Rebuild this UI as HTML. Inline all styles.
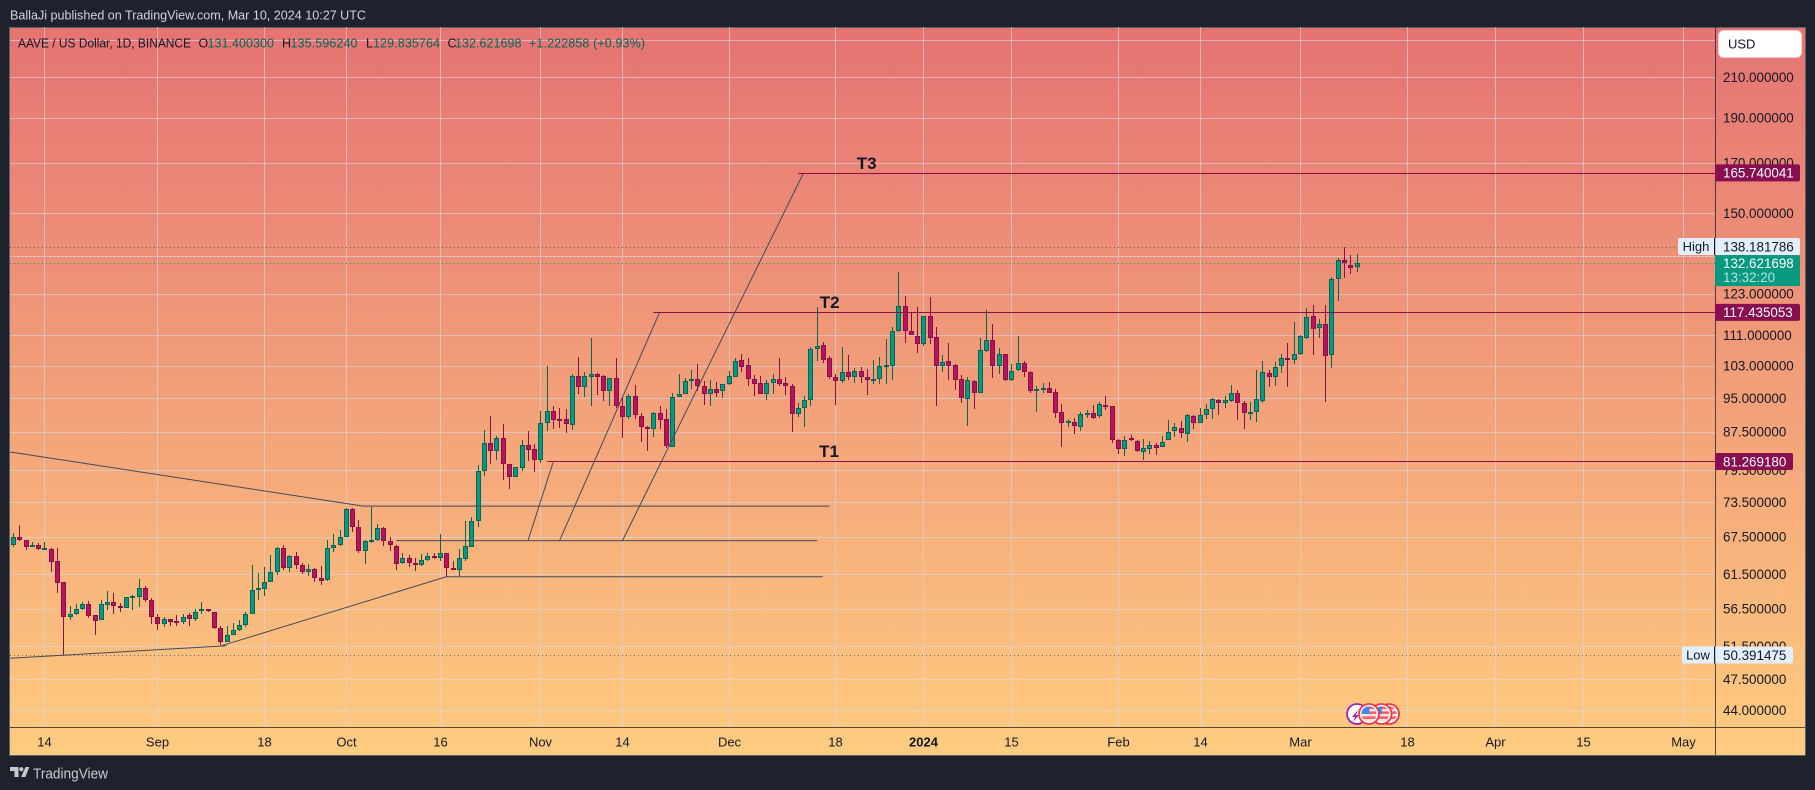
<!DOCTYPE html>
<html lang="en">
<head>
<meta charset="utf-8">
<title>AAVE / US Dollar chart</title>
<style>
html,body{margin:0;padding:0;background:#1e222d;width:1815px;height:790px;overflow:hidden}
svg{display:block;position:absolute;left:0;top:0}
text{font-family:"Liberation Sans",sans-serif}
</style>
</head>
<body>
<svg id="chart" width="1815" height="790" viewBox="0 0 1815 790" xmlns="http://www.w3.org/2000/svg">
  <defs id="defs">
    <linearGradient id="bg" x1="0" y1="0" x2="0" y2="1">
      <stop offset="0" stop-color="#e57373"/>
      <stop offset="1" stop-color="#ffcc80"/>
    </linearGradient>
    <clipPath id="plotClip"><rect x="10" y="27" width="1705" height="700"/></clipPath>
  </defs>
  <text x="10" y="19.5" font-size="13" fill="#d1d4dc" textLength="356" lengthAdjust="spacingAndGlyphs">BallaJi published on TradingView.com, Mar 10, 2024 10:27 UTC</text>
  <rect x="9.5" y="27.5" width="1796" height="728" fill="url(#bg)" stroke="#5d606b"/>
  <g id="grid" shape-rendering="crispEdges"></g>
  <g id="priceLines" clip-path="url(#plotClip)"></g>
  <g id="candles" clip-path="url(#plotClip)" shape-rendering="crispEdges"></g>
  <g id="drawings" clip-path="url(#plotClip)"></g>
  <g id="events"></g>
  <g font-size="12.5">
    <text x="18" y="47.5" fill="#131722" textLength="173" lengthAdjust="spacingAndGlyphs">AAVE / US Dollar, 1D, BINANCE</text>
    <text x="198.5" y="47.5" fill="#131722">O</text>
    <text x="207.5" y="47.5" fill="#056656" textLength="66.5">131.400300</text>
    <text x="282" y="47.5" fill="#131722">H</text>
    <text x="290.5" y="47.5" fill="#056656" textLength="67">135.596240</text>
    <text x="366" y="47.5" fill="#131722">L</text>
    <text x="373" y="47.5" fill="#056656" textLength="67">129.835764</text>
    <text x="447.5" y="47.5" fill="#131722">C</text>
    <text x="455" y="47.5" fill="#056656" textLength="66.5">132.621698</text>
    <text x="529" y="47.5" fill="#056656" textLength="116">+1.222858 (+0.93%)</text>
  </g>
  <g id="axes"></g>
  <g>
    <rect x="1718.5" y="30.5" width="83" height="27" rx="5" fill="#fff" stroke="#f0d0d0"/>
    <text x="1728" y="48.5" font-size="13" fill="#131722">USD</text>
  </g>
  <g>
    <path d="M10 767h8.5v10h-4v-6h-4.5z" fill="#c8cad2"/>
    <circle cx="21.3" cy="769.2" r="2.1" fill="#c8cad2"/>
    <path d="M25.5 767h3.8l-4 10h-4.2z" fill="#c8cad2"/>
    <text x="33" y="778.5" font-size="15" fill="#c8cad2" textLength="75" lengthAdjust="spacingAndGlyphs">TradingView</text>
  </g>
</svg>
<script>
const firstDate = '2023-08-09';
const opens = [
66.2,67.4,67.0,65.8,66.2,65.5,65.4,63.5,60.3,55.4,
55.8,56.5,57.1,55.6,55.0,57.0,57.5,56.9,56.6,58.2,
58.2,59.5,57.7,55.4,54.4,55.1,54.8,54.7,55.6,55.1,
56.2,56.5,56.1,53.9,52.1,53.0,53.6,54.3,55.8,59.1,
59.3,60.4,61.8,65.6,62.4,64.4,62.9,61.8,62.3,61.0,
60.6,65.7,66.1,67.5,72.2,69.2,65.1,66.6,66.9,68.9,
66.7,66.0,63.2,64.1,63.2,62.9,63.7,64.3,64.0,64.8,
62.5,62.1,63.9,65.8,70.1,79.3,85.0,83.5,86.1,80.7,
78.3,79.9,84.6,83.8,81.5,89.3,92.0,90.2,90.2,89.0,
100.3,97.6,100.2,100.8,100.3,96.8,99.8,93.2,90.8,95.5,
90.9,88.6,88.1,91.5,90.2,84.3,95.4,95.9,99.2,99.6,
97.9,96.1,97.2,96.6,98.3,100.2,104.3,103.1,99.6,98.6,
96.1,98.7,99.6,98.6,97.9,91.4,92.7,94.7,107.2,108.4,
104.8,100.1,99.2,101.3,100.2,101.6,100.1,99.5,99.7,103.0,
103.0,112.1,119.2,112.3,110.9,108.7,116.3,110.5,102.8,104.1,
103.1,99.6,94.8,99.1,96.3,106.8,109.6,103.0,106.1,99.3,
101.8,103.6,101.3,97.1,97.2,97.4,96.4,91.8,89.4,89.7,
88.5,91.3,91.5,91.0,93.5,93.2,85.8,83.9,86.1,85.4,
83.1,83.9,84.6,84.3,85.6,87.6,88.2,87.0,90.9,89.4,
91.2,92.4,94.5,94.0,94.4,96.2,93.8,91.7,91.9,94.4,
101.1,100.2,103.0,104.9,104.5,106.0,110.3,116.4,112.9,114.2,
105.8,127.6,133.8,131.9,131.4];
const closes = [
67.4,66.9,65.8,66.1,65.5,65.6,63.4,60.2,55.4,55.8,
56.5,57.1,55.5,54.8,57.1,57.4,56.9,56.6,58.2,58.3,
59.5,57.7,55.4,54.4,55.1,54.7,54.7,55.4,55.1,56.1,
56.5,56.2,53.9,52.1,53.0,53.6,54.3,55.8,59.1,59.4,
60.4,61.8,65.6,62.4,64.3,63.0,61.8,62.3,61.0,60.5,
65.7,66.1,67.5,72.2,69.2,65.1,66.7,66.9,68.9,66.7,
66.1,63.1,64.0,63.2,63.0,63.7,64.3,64.0,64.8,62.5,
62.1,64.0,65.9,70.1,79.3,85.0,83.5,86.1,80.7,78.3,
80.1,84.6,83.7,81.5,89.3,92.0,90.1,90.1,89.2,100.3,
97.6,100.3,100.8,100.2,96.8,99.8,93.2,90.6,95.5,91.1,
88.5,88.1,91.5,90.1,84.5,95.2,96.0,99.1,99.6,97.8,
96.1,97.2,96.3,98.3,100.3,104.1,102.7,99.7,98.5,96.1,
98.6,99.6,98.5,97.8,91.4,92.7,94.7,107.2,108.1,104.5,
100.0,99.2,101.3,100.0,101.6,100.2,99.5,99.6,102.8,103.2,
112.1,119.2,112.2,111.1,108.7,116.3,110.2,102.8,103.8,103.0,
99.3,95.0,99.3,96.3,106.9,109.6,102.8,105.9,99.3,101.6,
103.6,101.3,96.6,97.2,97.5,96.3,91.5,89.4,89.9,88.7,
91.3,91.5,90.5,93.6,93.1,85.6,83.9,85.8,85.6,83.3,
84.0,84.6,84.1,85.2,87.5,88.4,87.2,91.1,89.4,91.1,
92.5,94.8,94.0,94.5,96.2,93.8,91.7,91.8,94.8,101.3,
100.2,102.6,104.8,104.7,105.9,110.7,116.1,112.7,114.2,105.5,
127.4,133.8,132.7,131.1,132.62];
const highs = [
68.1,69.4,67.0,66.6,66.4,66.6,65.7,65.6,60.4,56.9,
57.1,57.4,57.6,55.6,57.7,59.0,58.7,57.3,58.2,58.4,
60.8,59.7,58.0,55.8,55.3,55.1,55.6,55.7,55.9,56.4,
57.4,56.5,56.1,54.1,54.2,54.6,55.0,56.1,62.9,61.7,
62.6,64.5,65.8,66.1,64.5,65.0,63.2,63.1,62.4,62.8,
66.9,68.0,68.6,72.4,72.4,70.3,66.9,72.7,69.7,69.2,
67.5,66.1,64.9,64.5,64.1,64.6,64.9,64.8,68.0,64.8,
63.5,65.4,70.1,70.8,80.5,87.8,90.9,86.5,89.1,80.7,
80.1,85.8,87.6,84.9,92.1,102.9,93.2,92.8,92.5,100.9,
105.2,101.4,110.3,101.0,100.6,99.8,104.9,95.4,96.0,98.2,
91.5,88.8,91.8,93.2,92.6,96.2,100.9,99.8,101.9,103.4,
99.2,99.4,98.9,98.4,101.7,104.9,106.0,104.9,100.5,100.4,
99.4,100.9,104.9,100.2,98.4,93.8,95.5,107.7,119.0,109.1,
105.4,100.8,107.7,105.7,102.3,102.7,102.1,104.4,105.1,110.0,
113.2,129.9,122.3,117.4,119.0,116.4,121.9,113.2,105.6,108.9,
103.3,100.5,100.1,99.3,110.2,118.2,114.2,107.5,106.1,103.3,
110.8,104.1,101.6,98.0,98.6,98.9,97.2,93.7,90.3,90.5,
91.8,92.3,93.5,94.1,95.5,93.2,85.9,86.5,86.7,85.6,
85.9,85.4,85.1,86.6,90.0,89.3,89.8,91.3,91.2,92.8,
93.7,95.0,94.9,95.5,98.2,97.0,94.4,94.2,101.9,104.1,
101.9,103.8,106.1,108.9,114.7,111.0,118.8,119.7,115.6,119.7,
128.1,134.3,138.18,135.3,135.6];
const lows = [
65.8,66.8,65.3,65.8,65.3,65.3,61.9,58.8,50.39,55.0,
55.6,56.3,55.2,53.0,54.9,56.3,55.7,56.1,56.6,56.3,
56.8,57.5,54.4,53.6,54.0,54.1,54.2,54.4,54.1,54.8,
55.8,56.0,53.8,51.6,52.0,52.9,53.5,54.0,55.8,57.7,
58.3,60.3,61.4,62.2,61.9,62.3,61.5,61.2,60.3,59.9,
60.5,65.0,66.0,67.5,68.3,64.8,63.1,66.4,66.8,66.0,
65.2,62.2,63.1,62.6,62.0,62.8,63.6,63.9,63.6,61.1,
62.1,61.2,63.6,65.8,69.2,78.5,80.8,81.5,77.6,75.9,
78.2,79.4,81.4,79.1,80.9,87.6,88.1,88.2,87.2,87.9,
96.0,95.3,93.1,95.8,94.4,93.2,92.8,86.2,90.3,90.3,
85.2,83.3,86.3,88.0,84.0,84.3,95.2,95.9,97.3,96.7,
93.5,93.1,95.4,95.0,98.2,100.1,101.4,98.0,95.5,95.9,
94.6,96.0,97.8,95.8,87.4,90.6,88.5,93.1,104.2,103.7,
99.7,93.5,98.7,99.4,98.7,98.6,95.8,98.4,98.4,98.4,
99.4,112.0,109.0,111.1,106.3,108.0,108.7,93.3,101.4,99.5,
97.0,94.0,88.7,92.5,96.3,106.6,99.9,100.9,99.2,99.2,
101.7,100.2,96.2,91.8,96.3,96.3,90.5,84.3,88.5,87.0,
87.6,90.4,90.3,90.5,92.3,85.1,82.8,82.4,85.4,83.2,
81.6,82.7,82.6,84.3,85.6,86.3,86.2,85.3,88.0,89.3,
90.2,90.2,91.2,92.8,94.1,90.0,88.0,90.0,89.6,94.0,
97.7,98.0,101.1,97.7,103.4,105.8,110.0,105.7,110.2,94.1,
102.4,120.8,127.8,129.1,129.84];
const priceTicks = [230,210,190,170,150,135,123,111,103,95,87.5,79.5,73.5,67.5,61.5,56.5,51.5,47.5,44];
const timeLabels = ['14','Sep','18','Oct','16','Nov','14','Dec','18','2024','15','Feb','14','Mar','18','Apr','15','May'];
const timeDates = ['2023-08-14','2023-09-01','2023-09-18','2023-10-01','2023-10-16','2023-11-01','2023-11-14','2023-12-01','2023-12-18','2024-01-01','2024-01-15','2024-02-01','2024-02-14','2024-03-01','2024-03-18','2024-04-01','2024-04-15','2024-05-01'];
const lastPrice = 132.621698;
const sessionHigh = 138.181786;
const sessionLow = 50.391475;
const targetNames = ['T1','T2','T3'];
const targetPrices = [81.26918,117.435053,165.740041];
const targetStartBars = [85.0,101.9,125.0];
const targetLabelBars = [129.9,130.0,135.9];
const riseStartBars = [81.95,86.98,97.0];
const riseEndBars = [85.93,102.9,125.85];
const riseEndPrices = [81.06,117.435,165.74];
const riseStartPrice = 66.85;
const wedgeBars = [-0.53,55.7,129.95];
const wedgePrices = [83.2,72.8,72.8];
const floorBars = [-0.53,33.9];
const floorPrices = [50.0,51.55];
const supportBars = [32.9,68.9,128.9];
const supportPrices = [51.5,61.13,61.15];
const midlineBars = [60.97,128.0];
const midlinePrices = [66.85,66.85];
const rearFlagBars = [219.1,217.9];
const frontFlagBar = 215.9;
const earningsBar = 214;

const NS = 'http://www.w3.org/2000/svg';
const X0 = 13.55, STEP = 6.278, Y0 = 77, P0 = 210, K = 405;
function xScale(bar){ return X0 + STEP * bar; }
function xPixel(bar){ return Math.floor(xScale(bar)) + 0.5; }
function yScale(price){ return Y0 + K * Math.log(P0 / price); }
function barOfDate(d){ return Math.round((Date.parse(d) - Date.parse(firstDate)) / 86400000); }
function make(parent, tag, attrs, txt){
  const el = document.createElementNS(NS, tag);
  for (const k in attrs) el.setAttribute(k, attrs[k]);
  if (txt !== undefined) el.textContent = txt;
  parent.appendChild(el);
  return el;
}
const defsEl = document.getElementById('defs');
const gridG = document.getElementById('grid');
const priceG = document.getElementById('priceLines');
const candleG = document.getElementById('candles');
const drawG = document.getElementById('drawings');
const eventG = document.getElementById('events');
const axesG = document.getElementById('axes');
const GRID = 'rgba(214,214,228,0.62)';

priceTicks.forEach(function(p){
  const y = Math.round(yScale(p)) + 0.5;
  const l = make(gridG, 'line', {x1:10, x2:1715, y1:y, y2:y, stroke:GRID});
  
  
});
timeDates.forEach(function(d){
  const x = xPixel(barOfDate(d));
  const l = make(gridG, 'line', {x1:x, x2:x, y1:27, y2:727, stroke:GRID});
  
  
});

const hiLine = make(priceG, 'line', {x1:10, x2:1715, y1:Math.round(yScale(sessionHigh))+0.5, y2:Math.round(yScale(sessionHigh))+0.5, stroke:'#5d606b', 'stroke-dasharray':'1 3'});


const loLine = make(priceG, 'line', {x1:10, x2:1715, y1:Math.round(yScale(sessionLow))+0.5, y2:Math.round(yScale(sessionLow))+0.5, stroke:'#5d606b', 'stroke-dasharray':'1 3'});


const lastLine = make(priceG, 'line', {x1:10, x2:1715, y1:Math.round(yScale(lastPrice))+0.5, y2:Math.round(yScale(lastPrice))+0.5, stroke:'#089981', 'stroke-dasharray':'1 3'});



const UP_FILL = '#089981', UP_EDGE = '#056656', DN_FILL = '#b9145a', DN_EDGE = '#880e4f';
opens.forEach(function(o, i){
  const c = closes[i], up = c >= o;
  const col = Math.floor(xScale(i));
  const edge = up ? UP_EDGE : DN_EDGE, fill = up ? UP_FILL : DN_FILL;
  const top = Math.round(yScale(Math.max(o, c)));
  const bot = Math.round(yScale(Math.min(o, c)));
  const hy = Math.round(yScale(highs[i]));
  const ly = Math.round(yScale(lows[i]));
  const g = make(candleG, 'g', {});
  
  
  const wick = make(g, 'rect', {x:col, y:hy, width:1, height:Math.max(1, ly - hy), fill:edge});
  
  
  const h = Math.max(2, bot - top);
  const body = make(g, 'rect', {x:col - 2, y:top, width:5, height:h, fill:edge});
  
  
  if (h > 2) {
    const inner = make(g, 'rect', {x:col - 1, y:top + 1, width:3, height:h - 2, fill:fill});
    
    
  }
});

const TREND = '#434a5c';
function polyline(bars, prices, color){
  const pts = bars.map(function(b, i){ return xScale(b).toFixed(1) + ',' + yScale(prices[i]).toFixed(1); }).join(' ');
  return make(drawG, 'polyline', {points:pts, fill:'none', stroke:color, 'stroke-width':1});
}
const wedge = polyline(wedgeBars, wedgePrices, TREND);


const floorL = polyline(floorBars, floorPrices, TREND);


const support = polyline(supportBars, supportPrices, TREND);


const midline = polyline(midlineBars, midlinePrices, TREND);



targetNames.forEach(function(name, i){
  const rise = polyline([riseStartBars[i], riseEndBars[i]], [riseStartPrice, riseEndPrices[i]], TREND);
  
  
  const y = Math.round(yScale(targetPrices[i])) + 0.5;
  const line = make(drawG, 'line', {x1:xScale(targetStartBars[i]), x2:1715, y1:y, y2:y, stroke:DN_EDGE});
  
  
  const label = make(drawG, 'text', {x:xScale(targetLabelBars[i]), y:y - 4.5, 'font-size':17, 'font-weight':'bold', fill:'#131722', 'text-anchor':'middle'}, name);
  
  
});

function drawFlag(bar, idx){
  const cx = xScale(bar), cy = 714;
  const clip = make(defsEl, 'clipPath', {id:'flagClip' + idx});
  make(clip, 'circle', {cx:cx, cy:cy, r:7.6});
  const g = make(eventG, 'g', {});
  
  
  const ring = make(g, 'circle', {cx:cx, cy:cy, r:10, fill:'#fff', stroke:'#f23645', 'stroke-width':1.8});
  
  
  const flag = make(g, 'g', {'clip-path':'url(#flagClip' + idx + ')'});
  
  
  const field = make(flag, 'rect', {x:cx - 8, y:cy - 8, width:16, height:16, fill:'#fbe0e0'});
  
  
  [-7.6, -2.6, 2.4].forEach(function(dy){
    const st = make(flag, 'rect', {x:cx - 8, y:cy + dy, width:16, height:2.6, fill:'#f7606c'});
    
    
  });
  const canton = make(flag, 'rect', {x:cx - 8, y:cy - 8, width:8.5, height:8, fill:'#3f8be8'});
  
  
}
rearFlagBars.forEach(function(b, i){ drawFlag(b, i); });
(function(){
  const cx = xScale(earningsBar), cy = 714;
  const eg = make(eventG, 'g', {});
  
  
  const ring = make(eg, 'circle', {cx:cx, cy:cy, r:10, fill:'#fff', stroke:'#9c27b0', 'stroke-width':1.8});
  
  
  const bolt = make(eg, 'path', {d:'M' + (cx + 1) + ' ' + (cy - 4) + 'l-6 7h3l-2 5 6-7h-3z', fill:'#9c27b0'});
  
  
})();
drawFlag(frontFlagBar, 9);

const AXIS = 'rgba(19,23,34,0.72)';
const axisV = make(axesG, 'rect', {x:1715, y:27, width:1, height:728, fill:AXIS});


const axisH = make(axesG, 'rect', {x:10, y:727, width:1795, height:1, fill:AXIS});



priceTicks.forEach(function(p){
  const t = make(axesG, 'text', {x:1723, y:yScale(p) + 4.8, 'font-size':13.4, fill:'#131722'}, p.toFixed(6));
  
  
});
timeLabels.forEach(function(lbl, i){
  const t = make(axesG, 'text', {x:xPixel(barOfDate(timeDates[i])), y:746.5, 'font-size':13, fill:'#131722', 'text-anchor':'middle', 'font-weight':lbl === '2024' ? 'bold' : 'normal'}, lbl);
  
  
});

function valueTag(price, fill, textFill, name, digits10){
  const y = yScale(price);
  const w = digits10 ? 85 : 78;
  const r = make(axesG, 'path', {d:'M1715 ' + (y - 8.5) + 'h' + (w - 2) + 'a2 2 0 0 1 2 2v13a2 2 0 0 1 -2 2h-' + (w - 2) + 'z', fill:fill});
  
  
  const t = make(axesG, 'text', {x:1723, y:y + 4.8, 'font-size':13.4, fill:textFill}, price.toFixed(6));
  
  
}
targetNames.forEach(function(name, i){
  valueTag(targetPrices[i], DN_EDGE, '#fff', 'target-price-' + name.toLowerCase(), targetPrices[i] >= 100);
});
valueTag(sessionHigh, '#e3effd', '#131722', 'session-high', true);
valueTag(sessionLow, '#e3effd', '#131722', 'session-low', false);

function sideTag(price, label, name, left){
  const y = yScale(price);
  const r = make(axesG, 'path', {d:'M1714 ' + (y - 8.5) + 'h-' + (1714 - left - 2) + 'a2 2 0 0 0 -2 2v13a2 2 0 0 0 2 2h' + (1714 - left - 2) + 'z', fill:'#e3effd'});
  
  
  const t = make(axesG, 'text', {x:(left + 1714) / 2, y:y + 4.6, 'font-size':13, fill:'#131722', 'text-anchor':'middle'}, label);
  
  
  const b = make(axesG, 'rect', {x:1714, y:y - 8.5, width:1.2, height:17, fill:'#131722'});
  
  
}
sideTag(sessionHigh, 'High', 'session-high', 1678);
sideTag(sessionLow, 'Low', 'session-low', 1682);

(function(){
  const y = yScale(lastPrice);
  const r = make(axesG, 'rect', {x:1715, y:y - 8, width:85, height:31, rx:1.5, fill:UP_FILL});
  
  
  const t = make(axesG, 'text', {x:1723, y:y + 4.8, 'font-size':13.4, fill:'#fff'}, lastPrice.toFixed(6));
  
  
  const cd = make(axesG, 'text', {x:1723, y:y + 19, 'font-size':13.4, fill:'#b5e3d8'}, '13:32:20');
  
  
})();
</script>
</body>
</html>
